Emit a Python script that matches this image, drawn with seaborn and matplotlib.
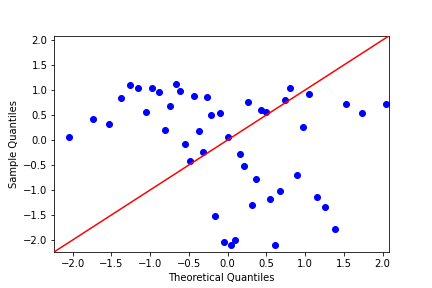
import matplotlib
matplotlib.use("Agg")
import matplotlib.pyplot as plt
import seaborn as sns
import pandas as pd

theoretical = [-2.04, -1.73, -1.53, -1.38, -1.26, -1.15, -1.05, -0.97, -0.89, -0.81,
               -0.74, -0.67, -0.61, -0.55, -0.49, -0.43, -0.37, -0.32, -0.26, -0.21,
               -0.16, -0.10, -0.05, 0.00, 0.05, 0.10, 0.16, 0.21, 0.26, 0.32,
               0.37, 0.43, 0.49, 0.55, 0.61, 0.67, 0.74, 0.81, 0.89, 0.97,
               1.05, 1.15, 1.26, 1.38, 1.53, 1.73, 2.04]
sample = [0.07, 0.43, 0.33, 0.85, 1.11, 1.05, 0.57, 1.05, 0.97, 0.21,
          0.69, 1.13, 0.99, -0.07, -0.42, 0.89, 0.19, -0.23, 0.87, 0.51,
          -1.51, 0.55, -2.03, 0.06, -2.09, -1.99, -0.27, -0.51, 0.77, -1.29,
          -0.77, 0.61, 0.57, -1.17, -2.09, -1.02, 0.80, 1.05, -0.69, 0.27,
          0.93, -1.13, -1.33, -1.77, 0.73, 0.54, 0.73]
line_ends = [-2.234, 2.08]

df = pd.DataFrame({"Theoretical Quantiles": theoretical, "Sample Quantiles": sample})

fig, ax = plt.subplots(figsize=(6, 4), dpi=72)
fig.subplots_adjust(left=0.126, right=0.9, top=0.875, bottom=0.126)

sns.scatterplot(data=df, x="Theoretical Quantiles", y="Sample Quantiles", ax=ax,
                color="blue", edgecolor="blue", linewidth=1, s=36, zorder=2)
sns.lineplot(x=line_ends, y=line_ends, ax=ax, color="red", linewidth=1.5, zorder=3)

ax.set_xlim(line_ends)
ax.set_ylim(line_ends)
ax.set_xticks([-2.0, -1.5, -1.0, -0.5, 0.0, 0.5, 1.0, 1.5, 2.0])
ax.set_yticks([-2.0, -1.5, -1.0, -0.5, 0.0, 0.5, 1.0, 1.5, 2.0])
ax.set_xlabel("Theoretical Quantiles")
ax.set_ylabel("Sample Quantiles")

fig.savefig("out.png", dpi=72)
